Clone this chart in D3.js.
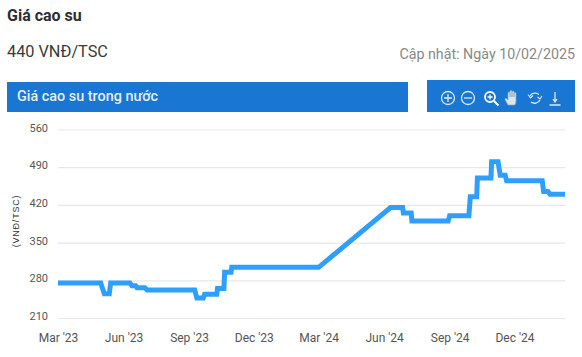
<!DOCTYPE html>
<html>
<head>
<meta charset="utf-8">
<script src="https://cdn.jsdelivr.net/npm/d3@7"></script>
<style>
  html, body { margin: 0; padding: 0; background: #fff; }
  svg { display: block; font-family: Roboto, sans-serif; }
</style>
</head>
<body>
<div id="chart"></div>
<script>
// price readings, each one is a date + value pair
var dates = ["2023-03-01","2023-04-30","2023-05-05","2023-05-12","2023-05-14","2023-06-10","2023-06-13","2023-06-18","2023-06-20","2023-07-01","2023-07-04","2023-09-09","2023-09-12","2023-09-21","2023-09-23","2023-10-10","2023-10-11","2023-10-20","2023-10-21","2023-10-30","2023-10-31","2024-03-01","2024-06-10","2024-06-27","2024-06-28","2024-07-09","2024-07-10","2024-08-30","2024-09-01","2024-09-28","2024-09-30","2024-10-09","2024-10-10","2024-10-29","2024-10-30","2024-11-08","2024-11-11","2024-11-18","2024-11-20","2025-01-09","2025-01-11","2025-01-17","2025-01-20","2025-02-10"];
var prices = [275,275,255,255,275,275,270,270,266,266,262,262,247,247,254,254,265,265,295,295,304,304,415,415,405,405,390,390,400,400,435,435,470,470,500,500,475,475,465,465,445,445,440,440];
var yTicks = [210,280,350,420,490,560];
var xTicks = ["2023-03-01","2023-06-01","2023-09-01","2023-12-01","2024-03-01","2024-06-01","2024-09-01","2024-12-01"];

var parseDate = d3.timeParse("%Y-%m-%d");
var series = dates.map(function(d, i) { return {date: parseDate(d), price: prices[i]}; });

var svg = d3.select("#chart").append("svg")
    .attr("width", 582)
    .attr("height", 357);

// header texts
svg.append("text").attr("x", 7).attr("y", 21)
    .attr("font-size", 16).attr("font-weight", 700).attr("fill", "#2b2e33")
    .text("Giá cao su");
svg.append("text").attr("x", 7).attr("y", 57)
    .attr("font-size", 16.3).attr("fill", "#3a3a3a")
    .text("440 VNĐ/TSC");
svg.append("text").attr("x", 575).attr("y", 59).attr("text-anchor", "end")
    .attr("font-size", 14.25).attr("fill", "#888")
    .text("Cập nhật: Ngày 10/02/2025");

// blue bars
svg.append("rect").attr("x", 7).attr("y", 82).attr("width", 401).attr("height", 30).attr("fill", "#1976d2");
svg.append("rect").attr("x", 427).attr("y", 80).attr("width", 148).attr("height", 32).attr("fill", "#1976d2");
svg.append("text").attr("x", 17).attr("y", 101)
    .attr("font-size", 14.4).attr("font-weight", 500).attr("fill", "#e3eefa")
    .text("Giá cao su trong nước");

// toolbar icons
var tools = svg.append("g").attr("fill", "none").attr("stroke", "#dbe9f8").attr("stroke-width", 1.3);
tools.append("circle").attr("cx", 448).attr("cy", 98).attr("r", 6.5);
tools.append("path").attr("d", "M444 98H452M448 94V102");
tools.append("circle").attr("cx", 468).attr("cy", 98).attr("r", 6.5);
tools.append("path").attr("d", "M464 98H472");
tools.append("circle").attr("cx", 490).attr("cy", 97).attr("r", 5).attr("stroke", "#fff").attr("stroke-width", 1.8);
tools.append("path").attr("d", "M487.5 97H492.5M490 94.500V99.500").attr("stroke", "#fff");
tools.append("path").attr("d", "M494 101L498.500 105.500").attr("stroke", "#fff").attr("stroke-width", 2);
tools.append("path")
    .attr("d", "M508 105L505 99.500Q505 97.500 507 99L508 100V92.500Q509.300 91.500 510 92.500V97V91Q511.300 90 512 91V97V91.500Q513.300 90.500 514 91.500V97V93Q515.300 92 516 93V101Q516 104 514.500 105Z")
    .attr("fill", "#dde5ee").attr("stroke", "#8fa6bd").attr("stroke-width", 0.7);
tools.append("path").attr("d", "M530 96A6 6 0 0 1 539 94.500M540 100A6 6 0 0 1 531 102");
tools.append("path").attr("d", "M528 94.500L530.500 98L533 95.500M537.500 97L540 99L542 96").attr("stroke-width", 1.1);
tools.append("path").attr("d", "M555 92V101M553 99L555 102L557 99M549.500 105H560.500");

// scales
var x = d3.scaleTime()
    .domain([parseDate("2023-03-01"), parseDate("2025-02-10")])
    .range([58, 565]);
var y = d3.scaleLinear()
    .domain([210, 560])
    .range([318, 129.5]);

// y axis with gridlines
var yAxis = svg.append("g")
    .attr("transform", "translate(58,0)")
    .call(d3.axisLeft(y).tickValues(yTicks).tickSize(-507).tickPadding(10).tickFormat(d3.format("d")));
yAxis.select(".domain").remove();
yAxis.selectAll("line").attr("stroke", "#e7e7e7").attr("stroke-width", 1.2);
yAxis.selectAll("text").attr("font-family", "Roboto, sans-serif").attr("font-size", 11).attr("fill", "#555").attr("dy", "0.15em");

// x axis labels only
var xAxis = svg.append("g")
    .attr("transform", "translate(0,328)")
    .call(d3.axisBottom(x).tickValues(xTicks.map(parseDate)).tickSize(0).tickPadding(5).tickFormat(d3.timeFormat("%b '%y")));
xAxis.select(".domain").remove();
xAxis.selectAll("text").attr("font-family", "Roboto, sans-serif").attr("font-size", 12).attr("fill", "#555");

// unit label
svg.append("text")
    .attr("transform", "translate(19,221) rotate(-90)")
    .attr("text-anchor", "middle")
    .attr("font-family", "'Liberation Sans', Arial, sans-serif")
    .attr("font-size", 9)
    .attr("letter-spacing", 0.8)
    .attr("fill", "#333")
    .text("(VNĐ/TSC)");

// price line
var line = d3.line()
    .x(function(d) { return x(d.date); })
    .y(function(d) { return y(d.price); });

svg.append("path")
    .datum(series)
    .attr("fill", "none")
    .attr("stroke", "#2e9fff")
    .attr("stroke-width", 5)
    .attr("stroke-linejoin", "miter")
    .attr("d", line);
</script>
</body>
</html>
